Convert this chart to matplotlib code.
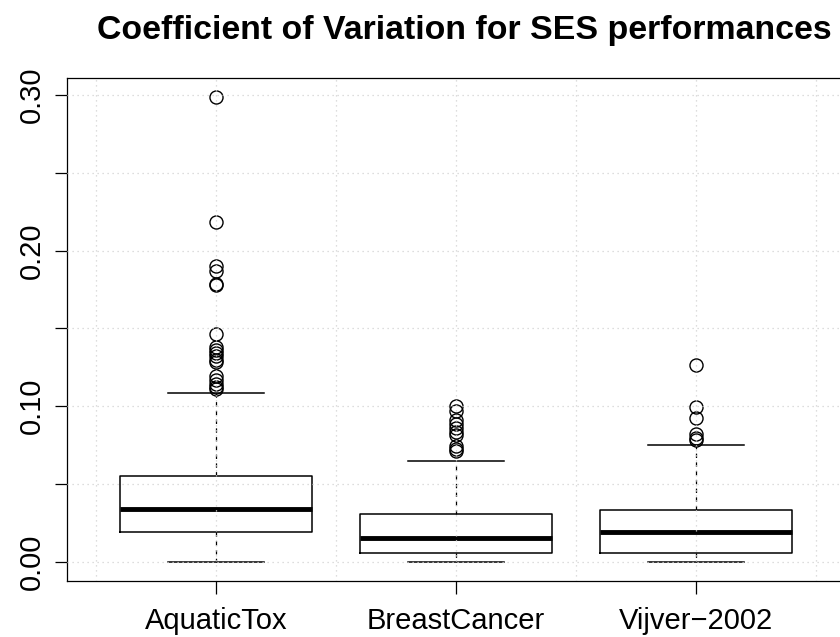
import matplotlib as mpl
import matplotlib.pyplot as plt
import numpy as np

mpl.rcParams.update({
    "font.family": ["Liberation Sans", "DejaVu Sans"],
    "axes.linewidth": 0.9,
})

# ---- data (coefficient of variation) ----
groups = ["AquaticTox", "BreastCancer", "Vijver\u22122002"]
q1 = [0.0195, 0.0060, 0.0056]
med = [0.0340, 0.0154, 0.0191]
q3 = [0.0552, 0.0308, 0.0336]
whislo = [0.0000, 0.0002, 0.0000]
whishi = [0.1088, 0.0647, 0.0752]
out_aquatic = [0.2987, 0.2182, 0.1900, 0.1870, 0.1786, 0.1780, 0.1465,
               0.1383, 0.1362, 0.1340, 0.1320, 0.1300, 0.1285,
               0.1195, 0.1170, 0.1143, 0.1124, 0.1110]
out_breast = [0.1004, 0.0972, 0.0915, 0.0885, 0.0860, 0.0835, 0.0815,
              0.0745, 0.0725, 0.0710]
out_vijver = [0.1266, 0.0998, 0.0927, 0.0820, 0.0799, 0.0784]
fliers = [out_aquatic, out_breast, out_vijver]

y_ticks = [0.00, 0.05, 0.10, 0.15, 0.20, 0.25, 0.30]
y_labels = ["0.00", "", "0.10", "", "0.20", "", "0.30"]

W, H = 840, 637
fig = plt.figure(figsize=(W / 100, H / 100), dpi=100)
# R-style plot region (right edge runs just past the image)
ax = fig.add_axes([67.2 / W, 1 - 580.6 / H, (844.8 - 67.2) / W, (580.6 - 78.3) / H])

stats = []
for i, g in enumerate(groups):
    stats.append(dict(label=g, q1=q1[i], med=med[i], q3=q3[i],
                      whislo=whislo[i], whishi=whishi[i], fliers=fliers[i]))

ax.bxp(stats, positions=[1, 2, 3], widths=0.8, patch_artist=False,
       boxprops=dict(color="black", linewidth=1.1),
       medianprops=dict(color="black", linewidth=3.5, solid_capstyle="butt"),
       whiskerprops=dict(color="black", linewidth=0.9, linestyle=(0, (3.5, 3.5))),
       capprops=dict(color="black", linewidth=1.1),
       capwidths=0.4,
       flierprops=dict(marker="o", markerfacecolor="none", markeredgecolor="black",
                       markersize=9.4, markeredgewidth=1.0, linestyle="none"))

ax.set_xlim(0.38, 3.62)
lo = -0.04 * max(out_aquatic)
ax.set_ylim(lo, max(out_aquatic) * 1.04)

# grid like R's grid(): dotted light grey
for x in np.arange(0.5, 3.51, 0.5):
    ax.axvline(x, color="lightgray", linestyle=(0, (1, 3)), linewidth=0.9, zorder=3)
for y in y_ticks:
    ax.axhline(y, color="lightgray", linestyle=(0, (1, 3)), linewidth=0.9, zorder=3)

ax.set_yticks(y_ticks)
ax.set_yticklabels(y_labels, rotation=90, va="center", fontsize=21)
ax.set_xticks([1, 2, 3])
ax.set_xticklabels(groups, fontsize=21)
ax.tick_params(axis="both", direction="out", length=9, width=0.9, color="black")
ax.tick_params(axis="y", pad=6)
ax.tick_params(axis="x", pad=10)

fig.text(464 / W, 1 - 31 / H, "Coefficient of Variation for SES performances",
         ha="center", va="center", fontsize=24.4, fontweight="bold")

fig.savefig("out.png", dpi=100)
